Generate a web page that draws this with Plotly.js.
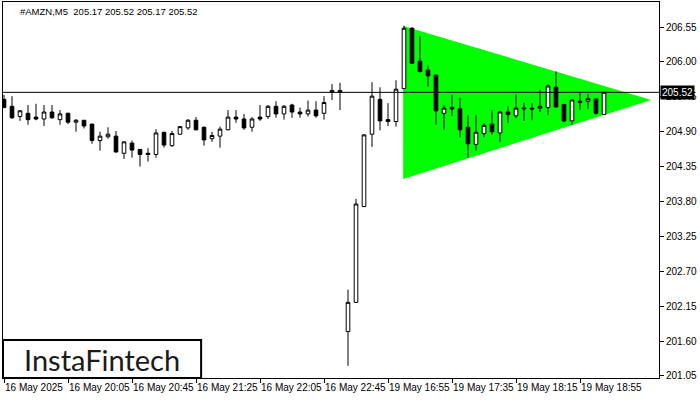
<!DOCTYPE html>
<html>
<head>
<meta charset="utf-8">
<script src="https://cdn.plot.ly/plotly-3.0.1.min.js"></script>
<style>html,body{margin:0;padding:0;background:#fff}#chart{width:700px;height:400px}</style>
</head>
<body>
<div id="chart"></div>
<script>
const symbolTitle = "#AMZN,M5  205.17 205.52 205.17 205.52";
const lastPrice = 205.52;

const openP = [
205.41, 205.30, 205.14, 205.19, 205.13, 205.10, 205.21, 205.09, 205.19, 205.05,
205.08, 205.02, 204.76, 204.82, 204.83, 204.56, 204.72, 204.62, 204.56, 204.54,
204.89, 204.68, 204.86, 204.96, 205.08, 204.97, 204.79, 204.83, 204.93, 205.13,
205.10, 204.97, 205.13, 205.14, 205.30, 205.18, 205.32, 205.21, 205.18, 205.24,
205.19, 205.52, 205.52, 201.75, 202.21, 203.72, 204.86, 205.41, 205.09, 205.06,
205.58, 206.53, 206.01, 205.87, 205.79, 205.19, 205.28, 205.26, 204.97, 204.70,
204.87, 205.02, 204.88, 205.21, 205.15, 205.26, 205.27, 205.27, 205.28, 205.60,
205.33, 205.07, 205.38, 205.38, 205.415, 205.17
];
const highP = [
205.48, 205.46, 205.24, 205.32, 205.34, 205.32, 205.32, 205.24, 205.20, 205.10,
205.085, 205.025, 204.90, 204.97, 204.91, 204.745, 204.76, 204.63, 204.64, 204.94,
204.90, 204.91, 204.99, 205.10, 205.13, 204.98, 204.90, 204.98, 205.24, 205.24,
205.18, 205.13, 205.32, 205.32, 205.38, 205.32, 205.34, 205.28, 205.39, 205.38,
205.46, 205.65, 205.67, 202.41, 203.84, 204.86, 205.68, 205.60, 205.35, 205.71,
206.57, 206.55, 206.41, 205.94, 205.80, 205.32, 205.48, 205.43, 205.16, 205.16,
205.03, 205.24, 205.23, 205.30, 205.49, 205.36, 205.35, 205.56, 205.65, 205.85,
205.335, 205.41, 205.53, 205.49, 205.42, 205.52
];
const lowP = [
205.27, 205.10, 205.07, 205.01, 205.08, 204.99, 205.10, 205.01, 205.02, 204.90,
204.95, 204.71, 204.60, 204.79, 204.57, 204.47, 204.49, 204.35, 204.43, 204.49,
204.65, 204.66, 204.85, 204.93, 204.92, 204.68, 204.74, 204.65, 204.92, 205.04,
204.93, 204.90, 205.07, 205.10, 205.12, 205.09, 205.12, 205.12, 205.14, 205.12,
205.09, 205.40, 205.24, 201.21, 202.20, 203.71, 204.66, 204.92, 204.99, 204.98,
205.57, 205.97, 205.83, 205.61, 205.01, 204.93, 205.15, 204.81, 204.49, 204.60,
204.81, 204.85, 204.74, 205.04, 205.11, 205.07, 205.08, 205.21, 205.16, 205.28,
205.05, 205.01, 205.24, 205.26, 205.17, 205.17
];
const closeP = [
205.28, 205.12, 205.23, 205.09, 205.10, 205.21, 205.12, 205.18, 205.05, 205.08,
204.99, 204.76, 204.83, 204.86, 204.58, 204.74, 204.61, 204.54, 204.54, 204.88,
204.69, 204.87, 204.98, 205.08, 204.93, 204.77, 204.84, 204.94, 205.13, 205.10,
204.96, 205.10, 205.10, 205.30, 205.18, 205.30, 205.21, 205.18, 205.24, 205.15,
205.36, 205.55, 205.55, 202.21, 203.76, 204.85, 205.46, 205.07, 205.06, 205.57,
206.53, 205.98, 205.85, 205.78, 205.23, 205.27, 205.26, 204.93, 204.71, 204.89,
205.00, 204.90, 205.21, 205.17, 205.27, 205.27, 205.26, 205.30, 205.62, 205.29,
205.07, 205.40, 205.36, 205.42, 205.19, 205.52
];

// bar indices of the time labels
const timeTickIdx = [0, 8, 16, 24, 32, 40, 48, 56, 64, 72];
const timeTickLabels = ["16 May 2025", "16 May 20:05", "16 May 20:45", "16 May 21:25", "16 May 22:05",
  "16 May 22:45", "19 May 16:55", "19 May 17:35", "19 May 18:15", "19 May 18:55"];

const priceTicks = [201.05, 201.60, 202.15, 202.70, 203.25, 203.80, 204.35, 204.90, 205.45, 206.00, 206.55];

// bullish symmetrical triangle pattern (bar index, price)
const patternX = [49.9, 49.9, 80.9];
const patternY = [206.566, 204.154, 205.40];

const barIdx = openP.map((_, i) => i);

const trianglePath = 'M ' + patternX.map((x, i) => x + ',' + patternY[i]).join(' L ') + ' Z';

const traces = [
  {
    type: 'candlestick', x: barIdx, open: openP, high: highP, low: lowP, close: closeP,
    increasing: {line: {color: '#000000', width: 1}, fillcolor: '#ffffff'},
    decreasing: {line: {color: '#000000', width: 1}, fillcolor: '#000000'},
    whiskerwidth: 0, hoverinfo: 'skip', showlegend: false
  }
];

const tickFont = {family: 'Liberation Sans, Arial, sans-serif', size: 10, color: '#000000'};

const layout = {
  width: 700, height: 400,
  margin: {l: 3, r: 41, t: 2, b: 22, pad: 0},
  paper_bgcolor: '#ffffff', plot_bgcolor: '#ffffff',
  showlegend: false,
  boxgap: 0.35,
  xaxis: {
    range: [-0.125, 81.875], tickmode: 'array', tickvals: timeTickIdx, ticktext: timeTickLabels,
    ticks: 'outside', ticklen: 4, tickcolor: '#000', tickwidth: 1,
    ticklabelposition: 'outside right', tickangle: 0,
    showline: true, mirror: true, linecolor: '#000', linewidth: 1,
    showgrid: false, zeroline: false, tickfont: tickFont,
    rangeslider: {visible: false}, fixedrange: true
  },
  yaxis: {
    side: 'right', range: [201.018, 206.944], tickmode: 'array', tickvals: priceTicks,
    ticktext: priceTicks.map(v => v.toFixed(2)),
    ticks: 'outside', ticklen: 4, tickcolor: '#000', tickwidth: 1,
    showline: true, mirror: true, linecolor: '#000', linewidth: 1,
    showgrid: false, zeroline: false, tickfont: tickFont, fixedrange: true
  },
  shapes: [
    {type: 'path', xref: 'x', yref: 'y', path: trianglePath,
     fillcolor: '#00ff00', line: {width: 0}, layer: 'below'},
    {type: 'line', xref: 'paper', x0: 0, x1: 1, yref: 'y', y0: lastPrice, y1: lastPrice,
     line: {color: '#000', width: 1}, layer: 'above'},
    {type: 'rect', xref: 'paper', x0: 0, x1: 0.302, yref: 'paper', y0: 0, y1: 0.101,
     line: {color: '#000', width: 2}, fillcolor: '#ffffff', layer: 'above'}
  ],
  annotations: [
    {xref: 'paper', yref: 'paper', x: 0.0229, y: 0.976, xanchor: 'left', yanchor: 'middle',
     text: symbolTitle, showarrow: false, font: {family: 'Liberation Sans, Arial, sans-serif', size: 9.5, color: '#000'}},
    {xref: 'paper', yref: 'y', x: 1, y: lastPrice, xanchor: 'left', yanchor: 'middle', xshift: 1,
     text: lastPrice.toFixed(2), showarrow: false, bgcolor: '#000', borderpad: 1,
     font: {family: 'Liberation Sans, Arial, sans-serif', size: 10, color: '#fff'}},
    {xref: 'paper', yref: 'paper', x: 0.151, y: 0.05, xanchor: 'center', yanchor: 'middle',
     text: 'InstaFintech', showarrow: false,
     font: {family: 'Lato, Inter, sans-serif', size: 29, color: '#1a1a1a'}}
  ]
};

Plotly.newPlot('chart', traces, layout, {staticPlot: true, displayModeBar: false});
</script>
</body>
</html>
